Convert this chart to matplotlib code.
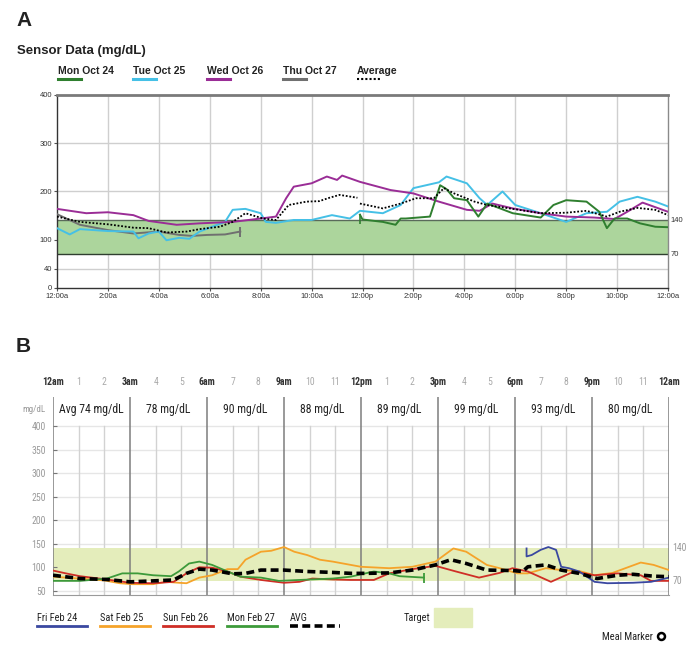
import matplotlib.pyplot as plt
import numpy as np
from matplotlib.lines import Line2D
from matplotlib import font_manager

W, H = 695, 660

# ---------- panel A: sensor data, hours after midnight / mg/dL ----------
a_xlabels = ['12:00a', '2:00a', '4:00a', '6:00a', '8:00a', '10:00a', '12:00p',
             '2:00p', '4:00p', '6:00p', '8:00p', '10:00p', '12:00a']
a_yticks = [0, 40, 100, 200, 300, 400]
a_target = (70, 140)

a_mon_h = [11.9, 12.0, 12.8, 13.3, 13.5, 13.7, 14.65, 15.05, 15.3, 15.6, 16.1, 16.55,
           16.9, 17.9, 19.0, 19.5, 20.0, 20.8, 21.3, 21.6, 21.9, 22.4, 22.9, 23.5, 24]
a_mon_v = [152, 142, 137, 131, 144, 144, 148, 213, 205, 186, 182, 148,
           175, 155, 146, 172, 182, 179, 158, 124, 144, 144, 134, 127, 126]

a_tue_h = [0, 0.5, 0.9, 2, 3, 3.2, 3.6, 4, 4.3, 4.8, 5.2, 5.6, 6.1, 6.6, 6.9, 7.4, 8,
           8.2, 8.6, 9.3, 10, 10.8, 11.5, 11.9, 12.8, 13.5, 14, 15, 15.3, 16.1, 16.6,
           16.9, 17.5, 18, 19, 20, 20.8, 21.6, 22.1, 22.8, 23.5, 24]
a_tue_v = [124, 111, 122, 118, 117, 103, 113, 117, 99, 104, 102, 117, 127, 137, 162, 164, 155,
           137, 135, 141, 141, 151, 144, 160, 155, 172, 207, 219, 231, 217, 186,
           172, 200, 172, 155, 137, 155, 158, 179, 189, 179, 169]

a_wed_h = [0, 1.15, 2, 3, 3.6, 4.7, 5.6, 6.9, 8, 8.6, 9, 9.3, 10, 10.6, 11, 11.2, 11.9,
           13.1, 14, 15, 16.1, 16.6, 17.1, 17.9, 19, 20, 21.1, 21.9, 22.4, 23, 24]
a_wed_v = [164, 155, 157, 151, 139, 131, 134, 137, 144, 148, 186, 210, 217, 231, 224, 233, 220,
           203, 196, 179, 162, 160, 175, 165, 155, 148, 146, 143, 158, 177, 158]

a_thu_h = [0, 0.9, 2, 3, 4, 4.8, 5.3, 5.9, 6.6, 7.2]
a_thu_v = [153, 131, 120, 113, 117, 110, 108, 110, 111, 117]

a_avg_h = [0, 0.9, 2, 3, 3.6, 4.3, 5.1, 5.6, 6.4, 6.9, 7.4, 8.1, 8.6, 9.1, 9.8, 10.3, 10.7,
           11.1, 11.8, 11.85, 11.9, 12.8, 13.5, 14.1, 14.8, 15.2, 15.6, 16.4, 16.9, 17.9,
           19, 20, 20.8, 21.6, 22.1, 22.8, 23.5, 24]
a_avg_v = [148, 137, 132, 125, 124, 115, 117, 122, 127, 137, 155, 144, 141, 172, 179, 180, 187,
           193, 187, np.nan, 175, 165, 175, 186, 186, 207, 196, 179, 172, 164,
           155, 156, 160, 148, 158, 166, 162, 151]

# ---------- panel B: daily overlay ----------
b_hour_labels = ['12am', '1', '2', '3am', '4', '5', '6am', '7', '8', '9am', '10', '11',
                 '12pm', '1', '2', '3pm', '4', '5', '6pm', '7', '8', '9pm', '10', '11', '12am']
b_block_avgs = [74, 78, 90, 88, 89, 99, 93, 80]
b_yticks = [50, 100, 150, 200, 250, 300, 350, 400]
b_target = (70, 140)

b_fri_h = [18.45, 18.45, 18.65, 19.0, 19.3, 19.6, 19.8, 20.1, 20.5, 21.1, 21.6, 22.6, 23.3, 24]
b_fri_v = [140, 123, 126, 137, 143, 137, 101, 98, 91, 69, 66, 67, 69, 78]

b_sat_h = [0, 1, 2, 2.6, 3.1, 3.9, 4.4, 4.9, 5.2, 5.7, 6.2, 6.8, 7.2, 7.5, 8.1, 8.5, 9.0,
           9.4, 9.9, 10.4, 10.9, 11.6, 12.0, 13.1, 14.0, 14.9, 15.6, 16.1, 16.9, 17.4,
           18.1, 18.5, 19.2, 19.8, 20.5, 21.1, 21.8, 22.9, 23.4, 24]
b_sat_v = [80, 76, 72, 66, 64, 64, 69, 67, 66, 78, 83, 96, 96, 116, 133, 135, 143,
           133, 126, 116, 112, 105, 101, 98, 101, 112, 140, 133, 105, 98,
           87, 87, 98, 94, 92, 83, 88, 110, 105, 94]

b_sun_h = [0, 0.5, 1.05, 2.1, 3, 3.9, 4.7, 5.2, 5.7, 6.2, 6.8, 7.3, 8.1, 9.0, 9.6, 10.1,
           10.9, 11.6, 12.5, 13.1, 14.0, 14.9, 15.7, 16.6, 17.4, 17.9, 18.5, 19.4, 20.3,
           21.1, 22.0, 22.9, 23.3, 24]
b_sun_v = [93, 87, 81, 74, 67, 66, 69, 87, 100, 99, 91, 80, 73, 67, 69, 76,
           74, 73, 73, 87, 96, 103, 91, 78, 88, 98, 91, 69, 91,
           83, 87, 83, 71, 71]

b_mon_h = [0, 1.05, 2.1, 2.7, 3.3, 3.9, 4.6, 4.9, 5.3, 5.7, 6.2, 6.8, 7.3, 8.1, 8.8, 9.6,
           10.9, 11.6, 12.5, 13.1, 13.5, 14.45]
b_mon_v = [71, 71, 76, 87, 87, 83, 81, 91, 108, 112, 105, 91, 80, 78, 71, 73,
           76, 80, 91, 87, 81, 78]

b_avg_h = [0, 1.05, 2.1, 3, 3.9, 4.7, 5.2, 5.7, 6.2, 7.0, 7.5, 8.1, 9.0, 9.9, 10.9, 11.6,
           12.2, 13.1, 14.0, 14.9, 15.5, 16.1, 16.9, 17.9, 18.3, 18.5, 19.2, 19.8, 20.5,
           21.2, 22.0, 22.6, 23.4, 24]
b_avg_v = [83, 76, 74, 69, 71, 73, 87, 96, 94, 86, 87, 94, 94, 91, 89, 87,
           87, 88, 94, 105, 116, 108, 94, 93, 91, 101, 105, 94, 87,
           76, 83, 85, 81, 80]

A_COLORS = {'mon': '#2f7f2f', 'tue': '#45c0e6', 'wed': '#9a2d96', 'thu': '#707070'}
B_COLORS = {'fri': '#3a48a0', 'sat': '#f5a32a', 'sun': '#cf2e26', 'mon': '#3d9a3a'}
ARIAL = ['Liberation Sans', 'DejaVu Sans']

# condensed face for panel B, if any is available
_names = {f.name for f in font_manager.fontManager.ttflist}
NARROW = ['DejaVu Sans']
for cand in ['Liberation Sans Narrow', 'Roboto Condensed', 'Open Sans Condensed', 'Noto Sans Display']:
    if cand in _names:
        NARROW = [cand, 'DejaVu Sans']
        break
STRETCH = 'condensed'
NSCALE = 1.0 if NARROW[0] != 'DejaVu Sans' else 0.86


def fx(x):
    return x / W


def fy(y):
    return 1 - y / H


fig = plt.figure(figsize=(W / 100, H / 100), dpi=100)


def legend_item(x, y, uy, ulen, label, color, ls, lw, size, family, weight='normal'):
    fig.text(fx(x), fy(y), label, fontsize=size, family=family, weight=weight,
             stretch=STRETCH, color='#222222', va='center', ha='left')
    fig.add_artist(Line2D([fx(x), fx(x + ulen)], [fy(uy), fy(uy)], color=color,
                          lw=lw, ls=ls, transform=fig.transFigure))


# ================= panel A =================
fig.text(fx(16), fy(21), 'A', fontsize=15, weight='bold', family=ARIAL, va='center', color='#222222')
fig.text(fx(17), fy(51), 'Sensor Data (mg/dL)', fontsize=9.5, weight='bold', family=ARIAL,
         va='center', color='#222222')

axA = fig.add_axes([fx(57), fy(288), (668 - 57) / W, (288 - 95) / H])
axA.set_xlim(0, 24)
axA.set_ylim(0, 400)
for h in range(2, 24, 2):
    axA.axvline(h, color='#cfcfcf', lw=1, zorder=0)
for v in [40, 100, 200, 300]:
    axA.axhline(v, color='#cfcfcf', lw=1, zorder=0)
axA.axhspan(*a_target, color='#acd59c', zorder=1, lw=0)
axA.axhline(a_target[1], color='#5a6a5a', lw=1, zorder=2)
axA.axhline(a_target[0], color='#2f3f2f', lw=1, zorder=2)

axA.plot(a_thu_h, a_thu_v, color=A_COLORS['thu'], lw=1.4, zorder=3)
axA.plot(a_thu_h[-1], a_thu_v[-1], marker='|', ms=7, mew=1.4, color=A_COLORS['thu'], zorder=3)
axA.plot(a_tue_h, a_tue_v, color=A_COLORS['tue'], lw=1.4, zorder=3)
axA.plot(a_wed_h, a_wed_v, color=A_COLORS['wed'], lw=1.4, zorder=3)
axA.plot(a_mon_h, a_mon_v, color=A_COLORS['mon'], lw=1.4, zorder=4)
axA.plot(a_mon_h[0], 142, marker='|', ms=7, mew=1.2, color=A_COLORS['mon'], zorder=4)
axA.plot(a_avg_h, a_avg_v, color='black', lw=1.3, ls=(0, (1, 1)), zorder=5)

axA.set_xticks(range(0, 25, 2))
axA.set_xticklabels(a_xlabels, fontsize=5.5, family=ARIAL, color='#333333')
axA.set_yticks(a_yticks)
axA.set_yticklabels([str(v) for v in a_yticks], fontsize=5.5, family=ARIAL, color='#333333')
axA.tick_params(length=2, width=0.8, pad=1.5, color='#555555')
for side, col, lw in [('top', '#7a7a7a', 2), ('right', '#8a8a8a', 1),
                      ('left', '#333333', 1), ('bottom', '#333333', 1)]:
    axA.spines[side].set_color(col)
    axA.spines[side].set_linewidth(lw)
for v in a_target[::-1]:
    axA.text(1.004, v, str(v), transform=axA.get_yaxis_transform(), fontsize=5.5,
             family=ARIAL, va='center', ha='left', color='#333333')

STRETCH = 'normal'
legend_item(58, 71, 79, 23, 'Mon Oct 24', A_COLORS['mon'], '-', 2.2, 7.5, ARIAL, 'bold')
legend_item(133, 71, 79, 23, 'Tue Oct 25', A_COLORS['tue'], '-', 2.2, 7.5, ARIAL, 'bold')
legend_item(207, 71, 79, 23, 'Wed Oct 26', A_COLORS['wed'], '-', 2.2, 7.5, ARIAL, 'bold')
legend_item(283, 71, 79, 23, 'Thu Oct 27', A_COLORS['thu'], '-', 2.2, 7.5, ARIAL, 'bold')
legend_item(357, 71, 79, 23, 'Average', 'black', (0, (1, 1)), 1.5, 7.5, ARIAL, 'bold')
STRETCH = 'condensed'

# ================= panel B =================
fig.text(fx(16), fy(347), 'B', fontsize=15, weight='bold', family=ARIAL, va='center', color='#222222')

b_ymin, b_ymax = 41, 462
axB = fig.add_axes([fx(53), fy(595), (669 - 53) / W, (595 - 397) / H])
axB.set_xlim(0, 24)
axB.set_ylim(b_ymin, b_ymax)
for v in b_yticks:
    axB.axhline(v, color='#e6e6e6', lw=1, zorder=0)
for h in range(1, 24):
    if h % 3:
        axB.plot([h, h], [b_ymin, 400], color='#d2d2d2', lw=1, zorder=0)
for h in range(0, 25, 3):
    axB.axvline(h, color='#7d7d7d', lw=1.1, zorder=1)
axB.axhspan(*b_target, color='#e4edbb', lw=0, zorder=0.5)

axB.plot(b_sat_h, b_sat_v, color=B_COLORS['sat'], lw=1.3, zorder=3)
axB.plot(b_sun_h, b_sun_v, color=B_COLORS['sun'], lw=1.3, zorder=3)
axB.plot(b_mon_h, b_mon_v, color=B_COLORS['mon'], lw=1.3, zorder=3)
axB.plot(b_mon_h[-1], b_mon_v[-1], marker='|', ms=7, mew=1.3, color=B_COLORS['mon'], zorder=3)
axB.plot(b_fri_h, b_fri_v, color=B_COLORS['fri'], lw=1.3, zorder=3)
axB.plot(b_avg_h, b_avg_v, color='black', lw=2.6, ls=(0, (2.2, 1.2)), zorder=4)

for i, a in enumerate(b_block_avgs):
    label = ('Avg %d mg/dL' if i == 0 else '%d mg/dL') % a
    axB.text(3 * i + 1.5, 436, label, fontsize=8.5 * NSCALE, family=NARROW, stretch=STRETCH,
             ha='center', va='center', color='#222222')
axB.text(-0.012, 436, 'mg/dL', transform=axB.get_yaxis_transform(), fontsize=6.5 * NSCALE,
         family=NARROW, stretch=STRETCH, ha='right', va='center', color='#9a9a9a')

axB.set_yticks(b_yticks)
axB.set_yticklabels([str(v) for v in b_yticks], fontsize=7 * NSCALE, family=NARROW,
                    stretch=STRETCH, color='#9a9a9a')
axB.tick_params(axis='y', length=3, direction='in', color='#777777', pad=5)
axB.xaxis.tick_top()
axB.set_xticks(range(25))
axB.set_xticklabels(b_hour_labels, fontsize=7 * NSCALE, family=NARROW, stretch=STRETCH)
axB.tick_params(axis='x', length=0, pad=7)
for h, t in enumerate(axB.get_xticklabels()):
    if h % 3 == 0:
        t.set_color('#333333')
        t.set_fontweight('bold')
    else:
        t.set_color('#aaaaaa')
for side in ['top', 'right', 'left']:
    axB.spines[side].set_visible(False)
axB.spines['bottom'].set_color('#9a9a9a')
for v in b_target[::-1]:
    axB.text(1.006, v, str(v), transform=axB.get_yaxis_transform(), fontsize=7 * NSCALE,
             family=NARROW, stretch=STRETCH, va='center', ha='left', color='#9a9a9a')

ls_size = 7.5 * NSCALE
legend_item(37, 618, 626, 50, 'Fri Feb 24', B_COLORS['fri'], '-', 2, ls_size, NARROW)
legend_item(100, 618, 626, 50, 'Sat Feb 25', B_COLORS['sat'], '-', 2, ls_size, NARROW)
legend_item(163, 618, 626, 50, 'Sun Feb 26', B_COLORS['sun'], '-', 2, ls_size, NARROW)
legend_item(227, 618, 626, 50, 'Mon Feb 27', B_COLORS['mon'], '-', 2, ls_size, NARROW)
legend_item(290, 618, 626, 50, 'AVG', 'black', (0, (2.2, 1.2)), 2.6, ls_size, NARROW)

fig.text(fx(430), fy(618), 'Target', fontsize=ls_size, family=NARROW, stretch=STRETCH,
         ha='right', va='center', color='#222222')
fig.patches.append(plt.Rectangle((fx(434), fy(627)), 38 / W, 19 / H, color='#e4edbb',
                                 transform=fig.transFigure, figure=fig))
fig.text(fx(653), fy(637), 'Meal Marker', fontsize=ls_size, family=NARROW, stretch=STRETCH,
         ha='right', va='center', color='#222222')
fig.add_artist(Line2D([fx(661)], [fy(636)], marker='o', ms=5, mew=1.8, mfc='white', mec='black',
                      transform=fig.transFigure))

fig.savefig('out.png', dpi=100, facecolor='white')
